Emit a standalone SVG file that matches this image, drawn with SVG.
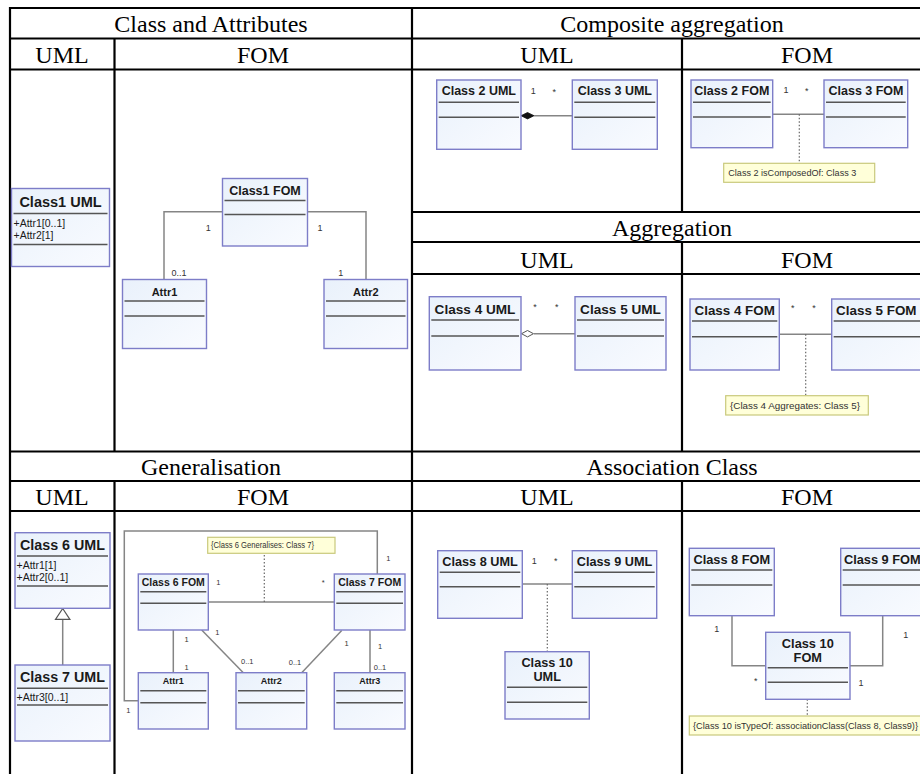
<svg xmlns="http://www.w3.org/2000/svg" width="920" height="774" viewBox="0 0 920 774">
<defs>
<linearGradient id="bg" x1="0" y1="0" x2="1" y2="1">
<stop offset="0" stop-color="#e9f1fb"/>
<stop offset="1" stop-color="#f9fbff"/>
</linearGradient>
<style>
.grid{stroke:#000;stroke-width:2.2;fill:none}
.h{font-family:"Liberation Serif","Times New Roman",serif;font-size:24px;fill:#000;text-anchor:middle}
.box{fill:url(#bg);stroke:#7d7dc8;stroke-width:1.4}
.dv{stroke:#555;stroke-width:1.4}
.t{font-family:"Liberation Sans",Arial,sans-serif;font-weight:bold;fill:#1a1a1a;text-anchor:middle}
.a{font-family:"Liberation Sans",Arial,sans-serif;font-size:10.5px;fill:#1a1a1a}
.m{font-family:"Liberation Sans",Arial,sans-serif;font-size:9px;fill:#333;text-anchor:middle}
.ms{font-family:"Liberation Sans",Arial,sans-serif;font-size:7.5px;fill:#333;text-anchor:middle}
.c{stroke:#858585;stroke-width:1.5;fill:none}
.d{stroke:#666;stroke-width:1.2;stroke-dasharray:1.5 2;fill:none}
.note{fill:#ffffd9;stroke:#c9c97c;stroke-width:1.2}
.nt{font-family:"Liberation Sans",Arial,sans-serif;font-size:9px;fill:#333}
</style>
</defs>
<rect x="0" y="0" width="920" height="774" fill="#fff"/>

<g id="table">
<path class="grid" d="M9,8 H920 M10,38.5 H920 M10,69.5 H920 M412,212 H920 M412,242 H920 M412,274 H920 M10,451.5 H920 M10,481 H920 M10,511 H920"/>
<path class="grid" d="M10,7 V774 M412,8 V774 M114.5,38.5 V451.5 M114.5,481 V774 M682,38.5 V212 M682,242 V451.5 M682,481 V774"/>
<text class="h" x="211" y="31.5">Class and Attributes</text>
<text class="h" x="672" y="31.5">Composite aggregation</text>
<text class="h" x="62" y="63">UML</text>
<text class="h" x="263" y="63">FOM</text>
<text class="h" x="547" y="63">UML</text>
<text class="h" x="807" y="63">FOM</text>
<text class="h" x="672" y="236">Aggregation</text>
<text class="h" x="547" y="267.5">UML</text>
<text class="h" x="807" y="267.5">FOM</text>
<text class="h" x="211" y="474.5">Generalisation</text>
<text class="h" x="672" y="474.5">Association Class</text>
<text class="h" x="62" y="505">UML</text>
<text class="h" x="263" y="505">FOM</text>
<text class="h" x="547" y="505">UML</text>
<text class="h" x="807" y="505">FOM</text>
</g>

<g id="connectors">
<!-- Class and Attributes -->
<path class="c" d="M222.5,211.7 H164 V279.5"/>
<path class="c" d="M307.5,211.7 H366 V279.5"/>
<!-- Composite -->
<path class="c" d="M534,115.7 H572.3"/>
<polygon points="521,115.7 527.5,112.5 534,115.7 527.5,118.9" fill="#111" stroke="#111" stroke-width="0.8"/>
<path class="c" d="M772.7,114.3 H824"/>
<path class="d" d="M799.3,114.3 V163.3"/>
<!-- Aggregation -->
<path class="c" d="M534,333.7 H575"/>
<polygon points="521.5,333.7 527.5,330.5 533.5,333.7 527.5,336.9" fill="#fff" stroke="#555" stroke-width="1"/>
<path class="c" d="M779.3,334.3 H831.7"/>
<path class="d" d="M805.7,334.3 V395.7"/>
<!-- Generalisation -->
<path class="c" d="M62.7,619.3 V665"/>
<polygon points="62.7,608.5 55.5,619.3 69.9,619.3" fill="#fff" stroke="#555" stroke-width="1.2"/>
<path class="c" d="M208.3,602 H334.3"/>
<path class="d" d="M264.3,602 V553.3"/>
<path class="c" d="M377.3,574 V531 H124.3 V700.7 H138.3"/>
<path class="c" d="M173.3,630 V672.7"/>
<path class="c" d="M201.7,630 L243.3,672.7"/>
<path class="c" d="M341.7,630.5 L301.7,672.7"/>
<path class="c" d="M370,630 V672.7"/>
<!-- Association class -->
<path class="c" d="M522.3,584 H572.3"/>
<path class="d" d="M547.3,584 V651.7"/>
<path class="c" d="M732,615.7 V665.7 H765.7"/>
<path class="c" d="M882.7,615.7 V665.7 H850"/>
<path class="d" d="M807.3,699.3 V716"/>
<!-- multiplicities -->
<text class="m" x="208.3" y="230.5">1</text>
<text class="m" x="179" y="275.5">0..1</text>
<text class="m" x="320" y="230.5">1</text>
<text class="m" x="340.7" y="275.5">1</text>
<text class="m" x="533.3" y="94">1</text>
<text class="m" x="554.3" y="95">*</text>
<text class="m" x="786" y="93">1</text>
<text class="m" x="806.7" y="94">*</text>
<text class="m" x="535" y="310">*</text>
<text class="m" x="556.7" y="310">*</text>
<text class="m" x="792.7" y="311">*</text>
<text class="m" x="814" y="311">*</text>
<text class="ms" x="218.3" y="584.5">1</text>
<text class="ms" x="323.3" y="585">*</text>
<text class="ms" x="388.3" y="561">1</text>
<text class="ms" x="128.3" y="713">1</text>
<text class="ms" x="186.7" y="642">1</text>
<text class="ms" x="186.7" y="669.5">1</text>
<text class="ms" x="217.3" y="635">1</text>
<text class="ms" x="247.3" y="663.5">0..1</text>
<text class="ms" x="346.7" y="646">1</text>
<text class="ms" x="295" y="664.5">0..1</text>
<text class="ms" x="380" y="648.5">1</text>
<text class="ms" x="380" y="670">0..1</text>
<text class="m" x="534.3" y="564">1</text>
<text class="m" x="555.7" y="564">*</text>
<text class="m" x="716.7" y="631.5">1</text>
<text class="m" x="755.7" y="684">*</text>
<text class="m" x="905.7" y="637.5">1</text>
<text class="m" x="861" y="685.5">1</text>
</g>

<!-- Class and Attributes -->
<g id="class1-uml">
<rect class="box" x="11.5" y="188.5" width="98" height="78"/>
<text class="t" x="60.5" y="207" font-size="14.5">Class1 UML</text>
<line class="dv" x1="13.5" y1="213.5" x2="107.5" y2="213.5"/>
<text class="a" x="13.5" y="227">+Attr1[0..1]</text>
<text class="a" x="13.5" y="238.8">+Attr2[1]</text>
<line class="dv" x1="13.5" y1="244.5" x2="107.5" y2="244.5"/>
</g>
<g id="class1-fom">
<rect class="box" x="222.5" y="178.5" width="85" height="67.5"/>
<text class="t" x="265" y="194.5" font-size="12.5">Class1 FOM</text>
<line class="dv" x1="224.5" y1="200.5" x2="305.5" y2="200.5"/>
<line class="dv" x1="224.5" y1="214.5" x2="305.5" y2="214.5"/>
</g>
<g id="attr1-a">
<rect class="box" x="122.5" y="279.5" width="84" height="69"/>
<text class="t" x="164.5" y="295.5" font-size="11">Attr1</text>
<line class="dv" x1="124.5" y1="301" x2="204.5" y2="301"/>
<line class="dv" x1="124.5" y1="316" x2="204.5" y2="316"/>
</g>
<g id="attr2-a">
<rect class="box" x="324" y="279.5" width="83.5" height="69"/>
<text class="t" x="365.8" y="295.5" font-size="11">Attr2</text>
<line class="dv" x1="326" y1="301" x2="405.5" y2="301"/>
<line class="dv" x1="326" y1="316" x2="405.5" y2="316"/>
</g>

<!-- Composite aggregation -->
<g id="class2-uml">
<rect class="box" x="436.7" y="80" width="84.3" height="69.3"/>
<text class="t" x="478.8" y="95" font-size="12.5">Class 2 UML</text>
<line class="dv" x1="438.7" y1="102.3" x2="519" y2="102.3"/>
<line class="dv" x1="438.7" y1="117.3" x2="519" y2="117.3"/>
</g>
<g id="class3-uml">
<rect class="box" x="572.3" y="80" width="85" height="69.3"/>
<text class="t" x="614.8" y="95" font-size="12.5">Class 3 UML</text>
<line class="dv" x1="574.3" y1="102.3" x2="655.3" y2="102.3"/>
<line class="dv" x1="574.3" y1="117.3" x2="655.3" y2="117.3"/>
</g>
<g id="class2-fom">
<rect class="box" x="691" y="80" width="81.7" height="67.7"/>
<text class="t" x="731.8" y="95" font-size="12.5">Class 2 FOM</text>
<line class="dv" x1="693" y1="102.3" x2="770.7" y2="102.3"/>
<line class="dv" x1="693" y1="117" x2="770.7" y2="117"/>
</g>
<g id="class3-fom">
<rect class="box" x="824" y="80" width="83.7" height="67.7"/>
<text class="t" x="866" y="95" font-size="12.5">Class 3 FOM</text>
<line class="dv" x1="826" y1="102.3" x2="905.7" y2="102.3"/>
<line class="dv" x1="826" y1="117" x2="905.7" y2="117"/>
</g>
<g id="note-composed">
<rect class="note" x="723.7" y="163.3" width="151" height="19"/>
<text class="nt" x="728.3" y="176" textLength="128" lengthAdjust="spacingAndGlyphs">Class 2 isComposedOf: Class 3</text>
</g>

<!-- Aggregation -->
<g id="class4-uml">
<rect class="box" x="429.3" y="296.7" width="91.7" height="73.3"/>
<text class="t" x="475" y="313.5" font-size="13.6">Class 4 UML</text>
<line class="dv" x1="431.3" y1="320" x2="519" y2="320"/>
<line class="dv" x1="431.3" y1="336" x2="519" y2="336"/>
</g>
<g id="class5-uml">
<rect class="box" x="575" y="296.7" width="91" height="73.3"/>
<text class="t" x="620.5" y="313.5" font-size="13.6">Class 5 UML</text>
<line class="dv" x1="577" y1="320" x2="664" y2="320"/>
<line class="dv" x1="577" y1="336" x2="664" y2="336"/>
</g>
<g id="class4-fom">
<rect class="box" x="690" y="299" width="89.3" height="71"/>
<text class="t" x="734.7" y="315" font-size="13.4">Class 4 FOM</text>
<line class="dv" x1="692" y1="321" x2="777.3" y2="321"/>
<line class="dv" x1="692" y1="336.7" x2="777.3" y2="336.7"/>
</g>
<g id="class5-fom">
<rect class="box" x="831.7" y="299" width="95" height="71"/>
<text class="t" x="876.3" y="315" font-size="13.4">Class 5 FOM</text>
<line class="dv" x1="833.7" y1="321" x2="920" y2="321"/>
<line class="dv" x1="833.7" y1="336.7" x2="920" y2="336.7"/>
</g>
<g id="note-aggregates">
<rect class="note" x="725.7" y="395.7" width="142.6" height="19.3"/>
<text class="nt" x="730" y="408.7" textLength="130" lengthAdjust="spacingAndGlyphs">{Class 4 Aggregates: Class 5}</text>
</g>

<!-- Generalisation -->
<g id="class6-uml">
<rect class="box" x="15" y="532.7" width="95" height="75.6"/>
<text class="t" x="62.5" y="549.5" font-size="14.3">Class 6 UML</text>
<line class="dv" x1="17" y1="556" x2="108" y2="556"/>
<text class="a" x="16.5" y="569" font-size="11">+Attr1[1]</text>
<text class="a" x="16.5" y="581" font-size="11">+Attr2[0..1]</text>
<line class="dv" x1="17" y1="586" x2="108" y2="586"/>
</g>
<g id="class7-uml">
<rect class="box" x="15" y="665" width="95" height="76"/>
<text class="t" x="62.5" y="681.7" font-size="14.3">Class 7 UML</text>
<line class="dv" x1="17" y1="688.3" x2="108" y2="688.3"/>
<text class="a" x="16.5" y="701" font-size="11">+Attr3[0..1]</text>
<line class="dv" x1="17" y1="705" x2="108" y2="705"/>
</g>
<g id="class6-fom">
<rect class="box" x="138.3" y="574" width="70" height="56"/>
<text class="t" x="173.3" y="586.3" font-size="10.5">Class 6 FOM</text>
<line class="dv" x1="140.3" y1="591.7" x2="206.3" y2="591.7"/>
<line class="dv" x1="140.3" y1="603.3" x2="206.3" y2="603.3"/>
</g>
<g id="class7-fom">
<rect class="box" x="334.3" y="574" width="70.7" height="56"/>
<text class="t" x="369.7" y="586.3" font-size="10.5">Class 7 FOM</text>
<line class="dv" x1="336.3" y1="591.7" x2="403" y2="591.7"/>
<line class="dv" x1="336.3" y1="603.3" x2="403" y2="603.3"/>
</g>
<g id="attr1-g">
<rect class="box" x="138.3" y="672.7" width="70" height="56.3"/>
<text class="t" x="173.3" y="684.3" font-size="9">Attr1</text>
<line class="dv" x1="140.3" y1="690.7" x2="206.3" y2="690.7"/>
<line class="dv" x1="140.3" y1="702.7" x2="206.3" y2="702.7"/>
</g>
<g id="attr2-g">
<rect class="box" x="236" y="672.7" width="70.7" height="56.3"/>
<text class="t" x="271.3" y="684.3" font-size="9">Attr2</text>
<line class="dv" x1="238" y1="690.7" x2="304.7" y2="690.7"/>
<line class="dv" x1="238" y1="702.7" x2="304.7" y2="702.7"/>
</g>
<g id="attr3-g">
<rect class="box" x="334.3" y="672.7" width="70.7" height="56.3"/>
<text class="t" x="369.7" y="684.3" font-size="9">Attr3</text>
<line class="dv" x1="336.3" y1="690.7" x2="403" y2="690.7"/>
<line class="dv" x1="336.3" y1="702.7" x2="403" y2="702.7"/>
</g>
<g id="note-generalises">
<rect class="note" x="207.7" y="537.3" width="127.3" height="16"/>
<text class="nt" x="211" y="548.3" font-size="7.5" textLength="103" lengthAdjust="spacingAndGlyphs">{Class 6 Generalises: Class 7}</text>
</g>

<!-- Association Class -->
<g id="class8-uml">
<rect class="box" x="437.7" y="550.7" width="84.6" height="67.6"/>
<text class="t" x="480" y="565.5" font-size="12.7">Class 8 UML</text>
<line class="dv" x1="439.7" y1="572.3" x2="520.3" y2="572.3"/>
<line class="dv" x1="439.7" y1="586.7" x2="520.3" y2="586.7"/>
</g>
<g id="class9-uml">
<rect class="box" x="572.3" y="550.7" width="84.4" height="67.6"/>
<text class="t" x="614.5" y="565.5" font-size="12.7">Class 9 UML</text>
<line class="dv" x1="574.3" y1="572.3" x2="654.7" y2="572.3"/>
<line class="dv" x1="574.3" y1="586.7" x2="654.7" y2="586.7"/>
</g>
<g id="class10-uml">
<rect class="box" x="505" y="651.7" width="84.3" height="67.3"/>
<text class="t" x="547.2" y="667" font-size="12.7">Class 10</text>
<text class="t" x="547.2" y="681" font-size="12.7">UML</text>
<line class="dv" x1="507" y1="687.3" x2="587.3" y2="687.3"/>
<line class="dv" x1="507" y1="702.3" x2="587.3" y2="702.3"/>
</g>
<g id="class8-fom">
<rect class="box" x="689.3" y="548.3" width="85" height="67.4"/>
<text class="t" x="731.8" y="563.5" font-size="12.8">Class 8 FOM</text>
<line class="dv" x1="691.3" y1="570" x2="772.3" y2="570"/>
<line class="dv" x1="691.3" y1="585" x2="772.3" y2="585"/>
</g>
<g id="class9-fom">
<rect class="box" x="840.7" y="548.3" width="90" height="67.4"/>
<text class="t" x="882.3" y="563.5" font-size="12.8">Class 9 FOM</text>
<line class="dv" x1="842.7" y1="570" x2="920" y2="570"/>
<line class="dv" x1="842.7" y1="585" x2="920" y2="585"/>
</g>
<g id="class10-fom">
<rect class="box" x="765.7" y="632.3" width="84.3" height="67"/>
<text class="t" x="807.8" y="647.5" font-size="12.8">Class 10</text>
<text class="t" x="807.8" y="661.5" font-size="12.8">FOM</text>
<line class="dv" x1="767.7" y1="667.7" x2="848" y2="667.7"/>
<line class="dv" x1="767.7" y1="682.3" x2="848" y2="682.3"/>
</g>
<g id="note-typeof">
<rect class="note" x="689.3" y="716" width="240" height="19"/>
<text class="nt" x="693" y="729" textLength="225" lengthAdjust="spacingAndGlyphs">{Class 10 isTypeOf: associationClass(Class 8, Class9)}</text>
</g>
</svg>
